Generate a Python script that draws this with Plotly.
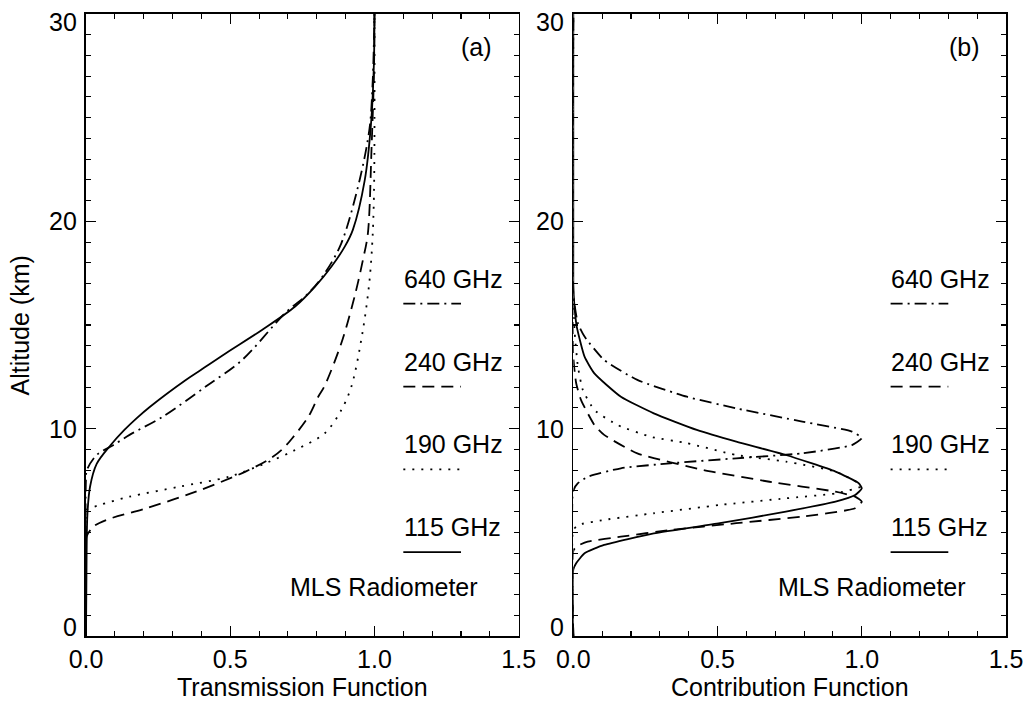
import plotly.graph_objects as go

# ---------------- data ----------------
labels = ["640 GHz", "240 GHz", "190 GHz", "115 GHz"]

# (a) Transmission function vs altitude (km)
alt_t115 = [0, 3.8, 5.9, 7.2, 8.3, 9.2, 9.94, 10.5, 11.06, 12.35, 12.83, 13.64, 14.76, 15.89, 16.85, 17.82, 18.78, 19.59, 21.96, 24.7, 27.6, 30]
tr_115 = [0, 0.002, 0.005, 0.014, 0.037, 0.085, 0.133, 0.175, 0.222, 0.346, 0.398, 0.485, 0.610, 0.725, 0.794, 0.851, 0.897, 0.925, 0.966, 0.988, 0.998, 1.0]

alt_t640 = [0, 7.6, 8.0, 8.73, 9.2, 9.7, 10.58, 12.03, 13.31, 15.57, 16.53, 17.5, 18.94, 21.96, 24.5, 26.8, 30]
tr_640 = [0, 0, 0.003, 0.037, 0.094, 0.151, 0.266, 0.415, 0.541, 0.690, 0.771, 0.828, 0.885, 0.948, 0.983, 0.994, 1.0]

alt_t240 = [0, 4.6, 4.8, 5.27, 5.6, 6.16, 6.96, 7.93, 8.57, 9.0, 9.54, 10.58, 11.54, 12.03, 14.12, 16.37, 18.14, 19.4, 23.6, 27, 30]
tr_240 = [0, 0, 0.002, 0.025, 0.071, 0.209, 0.381, 0.553, 0.640, 0.680, 0.715, 0.771, 0.805, 0.826, 0.885, 0.931, 0.960, 0.977, 0.990, 0.998, 1.0]

alt_t190 = [0, 5.9, 6.08, 6.32, 6.72, 7.2, 7.68, 8.33, 8.97, 9.78, 10.9, 12.03, 14.76, 17.17, 19.4, 22, 30]
tr_190 = [0, 0, 0.002, 0.048, 0.151, 0.323, 0.495, 0.622, 0.725, 0.828, 0.885, 0.920, 0.960, 0.983, 0.994, 0.999, 1.0]

# (b) Contribution function vs altitude (km)
alt_c115 = [0, 3.2, 3.51, 3.99, 4.39, 4.95, 5.44, 6.0, 6.48, 6.8, 7.12, 7.37, 7.93, 8.73, 9.37, 9.94, 10.74, 11.54, 12.67, 13.47, 14.92, 15.9, 17, 30]
cf_115 = [0, 0, 0.010, 0.039, 0.107, 0.279, 0.508, 0.737, 0.909, 0.977, 1.0, 0.989, 0.909, 0.737, 0.565, 0.428, 0.279, 0.165, 0.073, 0.039, 0.012, 0.004, 0, 0]

alt_c640 = [0, 7.0, 7.37, 7.68, 8.09, 8.33, 8.57, 8.81, 9.21, 9.54, 9.86, 10.34, 10.98, 11.54, 12.35, 13.31, 14.44, 15.08, 16.5, 30]
cf_640 = [0, 0, 0.016, 0.050, 0.165, 0.336, 0.565, 0.794, 0.966, 1.0, 0.966, 0.794, 0.565, 0.394, 0.222, 0.107, 0.039, 0.016, 0, 0]

alt_c240 = [0, 4.1, 4.31, 4.55, 4.79, 5.11, 5.44, 5.76, 6.16, 6.48, 6.72, 6.96, 7.44, 8.01, 8.81, 9.7, 10.18, 11.38, 12.19, 13.5, 30]
cf_240 = [0, 0, 0.010, 0.050, 0.165, 0.336, 0.565, 0.794, 0.977, 1.0, 0.977, 0.909, 0.680, 0.451, 0.222, 0.107, 0.073, 0.027, 0.010, 0, 0]

alt_c190 = [0, 5.1, 5.35, 5.6, 5.92, 6.32, 6.64, 6.88, 7.2, 7.37, 7.93, 8.41, 8.73, 9.3, 9.61, 10.18, 10.9, 11.87, 13.0, 14.6, 16, 30]
cf_190 = [0, 0, 0.016, 0.107, 0.279, 0.508, 0.737, 0.909, 0.995, 0.989, 0.909, 0.737, 0.565, 0.394, 0.268, 0.153, 0.073, 0.033, 0.016, 0.005, 0, 0]

x_ticks = [0.0, 0.5, 1.0, 1.5]
x_ticktext = ["0.0", "0.5", "1.0", "1.5"]
y_ticks = [0, 10, 20, 30]
y_ticktext = ["0", "10", "20", "30"]

# ---------------- styling ----------------
FONT = "Liberation Sans, Arial, Helvetica, sans-serif"
FS = 25
DASHES = {
    "640 GHz": "12px,5px,2px,5px",
    "240 GHz": "12px,7px",
    "190 GHz": "2px,7px",
    "115 GHz": "solid",
}
LW = 1.8

fig = go.Figure()

panels = [
    ("x", "y", 0.9, {"640 GHz": (alt_t640, tr_640), "240 GHz": (alt_t240, tr_240),
                     "190 GHz": (alt_t190, tr_190), "115 GHz": (alt_t115, tr_115)}),
    ("x2", "y2", 0.5, {"640 GHz": (alt_c640, cf_640), "240 GHz": (alt_c240, cf_240),
                       "190 GHz": (alt_c190, cf_190), "115 GHz": (alt_c115, cf_115)}),
]

for xa, ya, sm, series in panels:
    for name in labels:
        alt, val = series[name]
        fig.add_trace(go.Scatter(
            x=val, y=alt, mode="lines", name=name, showlegend=False,
            xaxis=xa, yaxis=ya,
            line=dict(color="black", width=LW, dash=DASHES[name], shape="spline", smoothing=sm),
            hoverinfo="skip",
        ))

W, H = 1035, 702
ML, MR, MT, MB = 86, 22, 14, 66
pw = W - ML - MR
ph = H - MT - MB
left_dom = [0, 436 / pw]
right_dom = [491 / pw, 1]

common_x = dict(
    range=[0, 1.5], tickmode="array", tickvals=x_ticks, ticktext=x_ticktext,
    ticks="inside", ticklen=10, tickwidth=1.3, tickcolor="black",
    showline=True, linecolor="black", linewidth=1.6, mirror="ticks",
    showgrid=False, zeroline=False, ticklabeloverflow="allow",
    tickfont=dict(family=FONT, size=FS, color="black"),
    minor=dict(dtick=0.1, tick0=0, ticks="inside", ticklen=5, tickwidth=1.1, tickcolor="black", showgrid=False),
    fixedrange=True,
)
common_y = dict(
    range=[0, 30], tickmode="array", tickvals=y_ticks, showticklabels=False,
    ticks="inside", ticklen=10, tickwidth=1.3, tickcolor="black",
    showline=True, linecolor="black", linewidth=1.6, mirror="ticks",
    showgrid=False, zeroline=False,
    minor=dict(dtick=1, tick0=0, ticks="inside", ticklen=5, tickwidth=1.1, tickcolor="black", showgrid=False),
    fixedrange=True,
)

fig.update_layout(
    width=W, height=H,
    margin=dict(l=ML, r=MR, t=MT, b=MB),
    paper_bgcolor="white", plot_bgcolor="white",
    font=dict(family=FONT, size=FS, color="black"),
    showlegend=False,
    xaxis=dict(domain=left_dom, anchor="y", **common_x),
    yaxis=dict(domain=[0, 1], anchor="x", **common_y),
    xaxis2=dict(domain=right_dom, anchor="y2", **common_x),
    yaxis2=dict(domain=[0, 1], anchor="x2", **common_y),
)

# legend text / sample lines and panel labels
leg_text_alt = [17.2, 13.23, 9.26, 5.27]
leg_line_alt = [16.03, 12.03, 8.04, 4.05]
annots = []
shapes = []
for xr, yr, tag, title in [("x", "y", "(a)", "Transmission Function"),
                           ("x2", "y2", "(b)", "Contribution Function")]:
    for name, ta, la in zip(labels, leg_text_alt, leg_line_alt):
        annots.append(dict(x=1.095, y=ta, xref=xr, yref=yr, text=name, showarrow=False,
                           xanchor="left", yanchor="middle", font=dict(size=FS)))
        shapes.append(dict(type="line", xref=xr, yref=yr, x0=1.10, x1=1.30, y0=la, y1=la,
                           line=dict(color="black", width=LW, dash=DASHES[name])))
    annots.append(dict(x=1.034, y=2.38, xref=xr, yref=yr, text="MLS Radiometer", showarrow=False,
                       xanchor="center", yanchor="middle", font=dict(size=FS)))
    annots.append(dict(x=1.355, y=28.43, xref=xr, yref=yr, text=tag, showarrow=False,
                       xanchor="center", yanchor="middle", font=dict(size=FS)))
    annots.append(dict(x=0.5, y=-50.7 / ph, xref=f"{xr} domain", yref="paper", text=title,
                       showarrow=False, xanchor="center", yanchor="middle", font=dict(size=FS)))
    # y tick labels (end labels nudged inward, as in the reference)
    for v, t in zip(y_ticks, y_ticktext):
        shift = 9 if v == min(y_ticks) else (-8 if v == max(y_ticks) else 0)
        annots.append(dict(x=0, y=v, xref=f"{xr} domain", yref=yr, text=t, showarrow=False,
                           xanchor="right", yanchor="middle", xshift=-7, yshift=shift,
                           font=dict(size=FS)))

annots.append(dict(x=(20 - ML) / pw, y=0.5, xref="paper", yref="paper", text="Altitude (km)",
                   textangle=-90, showarrow=False, xanchor="center", yanchor="middle",
                   font=dict(size=FS)))

fig.update_layout(annotations=annots, shapes=shapes)

fig.write_html("out.html", config={"displayModeBar": False, "staticPlot": True},
               post_script="document.body.style.margin='0px';")
